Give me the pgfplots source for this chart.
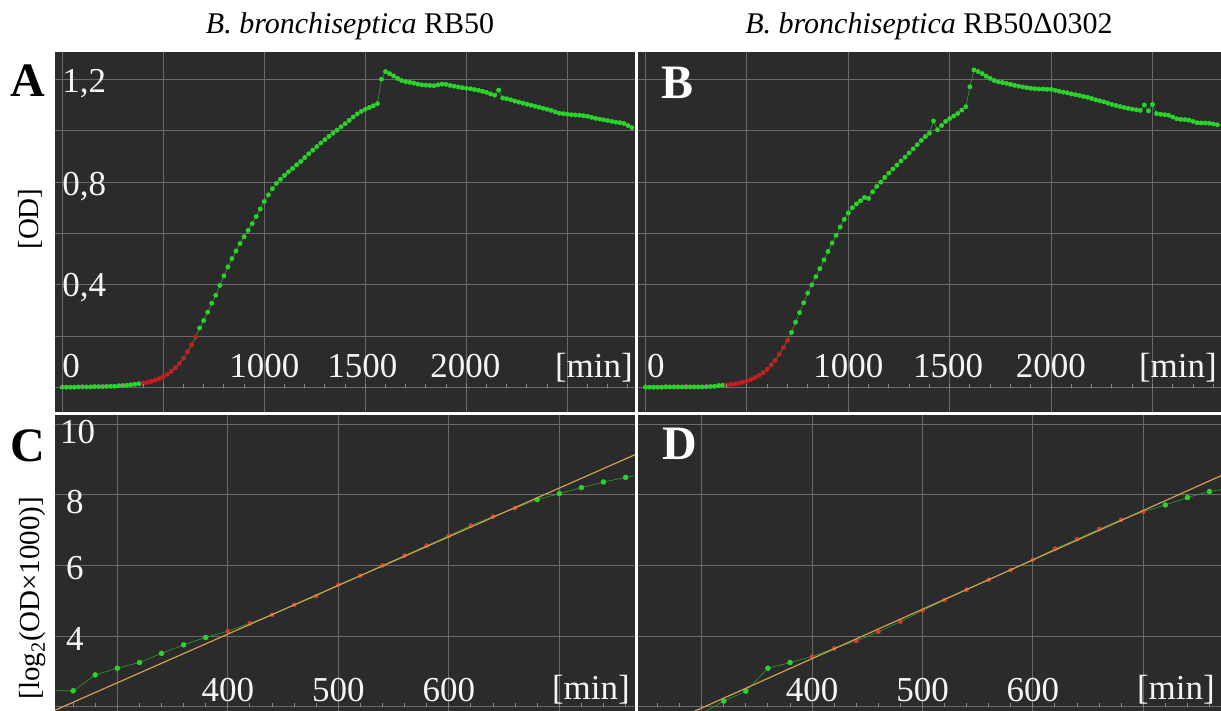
\documentclass[border=0pt]{standalone}
\usepackage{fontspec}
\setmainfont{Liberation Serif}
\usepackage{pgfplots}
\usepackage{pgfplotstable}
\pgfplotsset{compat=1.18}

\definecolor{bg}{HTML}{2B2B2B}
\definecolor{gridc}{HTML}{6A6A6A}
\definecolor{tickc}{HTML}{8A8A8A}
\definecolor{ptg}{HTML}{2BD42B}
\definecolor{lng}{HTML}{2E9E2E}
\definecolor{ptr}{HTML}{C81E1E}
\definecolor{ptrb}{HTML}{D43C28}
\definecolor{fitc}{HTML}{CFA052}
\definecolor{lab}{HTML}{F5F5F5}

% growth curve, RB50 (OD)
\pgfplotstableread{
t v c
0 0.002 g
20 0.002 g
40 0.002 g
60 0.002 g
80 0.003 g
100 0.003 g
120 0.003 g
140 0.003 g
160 0.004 g
180 0.004 g
200 0.004 g
220 0.005 g
240 0.0055 g
260 0.0055 g
280 0.0075 g
300 0.0085 g
320 0.0095 g
340 0.0114 g
360 0.0135 g
380 0.0156 g
400 0.0176 r
420 0.0205 r
440 0.0243 r
460 0.0295 r
480 0.0350 r
500 0.0437 r
520 0.0523 r
540 0.0640 r
560 0.0777 r
580 0.0943 r
600 0.1146 r
620 0.1400 r
640 0.1666 r
660 0.1967 r
680 0.2323 g
700 0.2614 g
720 0.2940 g
740 0.3286 g
760 0.3595 g
780 0.398 g
800 0.435 g
820 0.470 g
840 0.502 g
860 0.532 g
880 0.561 g
900 0.587 g
920 0.612 g
940 0.638 g
960 0.666 g
980 0.695 g
1000 0.724 g
1020 0.750 g
1040 0.774 g
1060 0.795 g
1080 0.811 g
1100 0.826 g
1120 0.840 g
1140 0.853 g
1160 0.867 g
1180 0.880 g
1200 0.895 g
1220 0.910 g
1240 0.924 g
1260 0.938 g
1280 0.952 g
1300 0.965 g
1320 0.978 g
1340 0.990 g
1360 1.002 g
1380 1.015 g
1400 1.027 g
1420 1.040 g
1440 1.053 g
1460 1.065 g
1480 1.075 g
1500 1.083 g
1520 1.090 g
1540 1.097 g
1560 1.105 g
1580 1.200 g
1600 1.230 g
1620 1.222 g
1640 1.213 g
1660 1.203 g
1680 1.195 g
1700 1.190 g
1720 1.188 g
1740 1.185 g
1760 1.181 g
1780 1.178 g
1800 1.177 g
1820 1.176 g
1840 1.175 g
1860 1.178 g
1880 1.181 g
1900 1.180 g
1920 1.176 g
1940 1.173 g
1960 1.170 g
1980 1.167 g
2000 1.165 g
2020 1.163 g
2040 1.160 g
2060 1.157 g
2080 1.153 g
2100 1.149 g
2120 1.143 g
2140 1.138 g
2160 1.158 g
2180 1.127 g
2200 1.124 g
2220 1.120 g
2240 1.115 g
2260 1.111 g
2280 1.107 g
2300 1.103 g
2320 1.099 g
2340 1.095 g
2360 1.091 g
2380 1.087 g
2400 1.083 g
2420 1.079 g
2440 1.073 g
2460 1.068 g
2480 1.066 g
2500 1.064 g
2520 1.062 g
2540 1.061 g
2560 1.060 g
2580 1.058 g
2600 1.056 g
2620 1.052 g
2640 1.048 g
2660 1.045 g
2680 1.042 g
2700 1.039 g
2720 1.036 g
2740 1.033 g
2760 1.031 g
2780 1.028 g
2800 1.020 g
2820 1.012 g
2840 1.010 g
}\dataA

% growth curve, RB50 delta 0302 (OD)
\pgfplotstableread{
t v c
0 0.002 g
20 0.002 g
40 0.002 g
60 0.002 g
80 0.002 g
100 0.003 g
120 0.003 g
140 0.003 g
160 0.003 g
180 0.003 g
200 0.003 g
220 0.003 g
240 0.003 g
260 0.003 g
280 0.003 g
300 0.0035 g
320 0.0045 g
340 0.0054 g
360 0.0085 g
380 0.0095 g
400 0.0107 r
420 0.0126 r
440 0.0145 r
460 0.0174 r
480 0.0213 r
500 0.0264 r
520 0.0325 r
540 0.0397 r
560 0.0482 r
580 0.0585 r
600 0.0715 r
620 0.0886 r
640 0.1069 r
660 0.1307 r
680 0.1565 r
700 0.1835 r
720 0.215 g
740 0.255 g
760 0.292 g
780 0.330 g
800 0.368 g
820 0.400 g
840 0.432 g
860 0.463 g
880 0.497 g
900 0.530 g
920 0.563 g
940 0.593 g
960 0.625 g
980 0.655 g
1000 0.680 g
1020 0.700 g
1040 0.715 g
1060 0.727 g
1080 0.740 g
1100 0.736 g
1120 0.762 g
1140 0.783 g
1160 0.800 g
1180 0.818 g
1200 0.835 g
1220 0.851 g
1240 0.866 g
1260 0.882 g
1280 0.897 g
1300 0.913 g
1320 0.929 g
1340 0.945 g
1360 0.962 g
1380 0.977 g
1400 0.990 g
1420 1.038 g
1440 1.003 g
1460 1.020 g
1480 1.036 g
1500 1.047 g
1520 1.057 g
1540 1.067 g
1560 1.080 g
1580 1.093 g
1600 1.171 g
1620 1.236 g
1640 1.230 g
1660 1.222 g
1680 1.212 g
1700 1.203 g
1720 1.195 g
1740 1.190 g
1760 1.187 g
1780 1.184 g
1800 1.180 g
1820 1.176 g
1840 1.173 g
1860 1.170 g
1880 1.167 g
1900 1.165 g
1920 1.163 g
1940 1.162 g
1960 1.162 g
1980 1.161 g
2000 1.161 g
2020 1.157 g
2040 1.153 g
2060 1.150 g
2080 1.147 g
2100 1.143 g
2120 1.140 g
2140 1.137 g
2160 1.133 g
2180 1.130 g
2200 1.125 g
2220 1.120 g
2240 1.116 g
2260 1.112 g
2280 1.107 g
2300 1.102 g
2320 1.098 g
2340 1.094 g
2360 1.090 g
2380 1.087 g
2400 1.084 g
2420 1.081 g
2440 1.079 g
2460 1.100 g
2480 1.077 g
2500 1.102 g
2520 1.066 g
2540 1.064 g
2560 1.062 g
2580 1.060 g
2600 1.053 g
2620 1.046 g
2640 1.044 g
2660 1.043 g
2680 1.041 g
2700 1.036 g
2720 1.031 g
2740 1.030 g
2760 1.030 g
2780 1.029 g
2800 1.026 g
2820 1.023 g
2840 1.020 g
}\dataB

% log2(OD x 1000), RB50
\pgfplotstableread{
t v c
240 2.45 g
260 2.45 g
280 2.90 g
300 3.09 g
320 3.25 g
340 3.51 g
360 3.75 g
380 3.96 g
400 4.14 r
420 4.36 r
440 4.60 r
460 4.88 r
480 5.13 r
500 5.45 r
520 5.71 r
540 6.00 r
560 6.28 r
580 6.56 r
600 6.84 r
620 7.13 r
640 7.38 r
660 7.62 r
680 7.86 g
700 8.03 g
720 8.20 g
740 8.36 g
760 8.49 g
780 8.60 g
}\dataC

% log2(OD x 1000), RB50 delta 0302
\pgfplotstableread{
t v c
280 1.50 g
300 1.80 g
320 2.16 g
340 2.44 g
360 3.09 g
380 3.25 g
400 3.42 r
420 3.65 r
440 3.86 r
460 4.12 r
480 4.41 r
500 4.72 r
520 5.02 r
540 5.31 r
560 5.59 r
580 5.87 r
600 6.16 r
620 6.47 r
640 6.74 r
660 7.03 r
680 7.29 r
700 7.52 r
720 7.71 g
740 7.92 g
760 8.09 g
780 8.20 g
}\dataD

\pgfplotsset{
  panel/.style={
    scale only axis, anchor=north west,
    axis background/.style={fill=bg},
    axis line style={draw=none},
    tick style={draw=none},
    xticklabels={}, yticklabels={},
    xmajorgrids, ymajorgrids,
    major grid style={gridc, line width=1bp},
    clip marker paths=true,
  },
  curve/.style={lng, line width=0.6bp, mark=none},
  dots/.style={scatter, only marks, scatter src=explicit symbolic},
}
\tikzset{
  txt/.style={text=lab, inner sep=0pt, font=\fontsize{35bp}{40bp}\selectfont},
  mtick/.style={tickc, line width=1bp},
}

\begin{document}
\begin{tikzpicture}
\fill[white] (0,0) rectangle (1221bp,-711bp);
\useasboundingbox (0,0) rectangle (1221bp,-711bp);

% ---- A ----
\begin{axis}[panel, at={(55bp,-52bp)}, width=580bp, height=360bp,
  xmin=-36, xmax=2835, ymin=-0.0946, ymax=1.306,
  xtick={0,500,1000,1500,2000,2500}, ytick={0,0.2,0.4,0.6,0.8,1,1.2}]
\addplot[curve] table[x=t,y=v] {\dataA};
\addplot[dots, mark size=2.2bp, scatter/classes={g={mark=*,ptg},r={mark=*,ptr}}]
  table[x=t,y=v,meta=c] {\dataA};
\pgfplotsinvokeforeach{0,100,...,2800}{\draw[mtick] (axis cs:#1,0) -- ++(0pt,4bp);}
\node[txt, anchor=base west, yshift=10bp] at (axis cs:0,0) {0};
\node[txt, anchor=base, yshift=10bp] at (axis cs:1000,0) {1000};
\node[txt, anchor=base, yshift=10bp] at (axis cs:1485,0) {1500};
\node[txt, anchor=base, yshift=10bp] at (axis cs:1995,0) {2000};
\node[txt, anchor=base east, xshift=-2bp, yshift=10bp] at (axis cs:2835,0) {[min]};
\node[txt, anchor=base west, yshift=-13bp] at (axis cs:0,1.2) {1,2};
\node[txt, anchor=base west, yshift=-13bp] at (axis cs:0,0.8) {0,8};
\node[txt, anchor=base west, yshift=-12bp] at (axis cs:0,0.4) {0,4};
\end{axis}

% ---- B ----
\begin{axis}[panel, at={(638bp,-52bp)}, width=583bp, height=360bp,
  xmin=-37, xmax=2838, ymin=-0.0946, ymax=1.306,
  xtick={0,500,1000,1500,2000,2500}, ytick={0,0.2,0.4,0.6,0.8,1,1.2}]
\addplot[curve] table[x=t,y=v] {\dataB};
\addplot[dots, mark size=2.2bp, scatter/classes={g={mark=*,ptg},r={mark=*,ptr}}]
  table[x=t,y=v,meta=c] {\dataB};
\pgfplotsinvokeforeach{0,100,...,2800}{\draw[mtick] (axis cs:#1,0) -- ++(0pt,4bp);}
\node[txt, anchor=base west, xshift=1.5bp, yshift=10bp] at (axis cs:0,0) {0};
\node[txt, anchor=base, yshift=10bp] at (axis cs:1000,0) {1000};
\node[txt, anchor=base, yshift=10bp] at (axis cs:1492,0) {1500};
\node[txt, anchor=base, yshift=10bp] at (axis cs:1999,0) {2000};
\node[txt, anchor=base east, xshift=-4bp, yshift=10bp] at (axis cs:2838,0) {[min]};
\end{axis}

% ---- C ----
\begin{axis}[panel, at={(55bp,-415bp)}, width=580bp, height=296bp,
  xmin=243.6, xmax=768.5, ymin=1.878, ymax=10.255,
  xtick={300,400,500,600,700}, ytick={2,4,6,8,10}]
\addplot[curve] table[x=t,y=v] {\dataC};
\addplot[dots, scatter/classes={g={mark=*,ptg,mark size=2.5bp},r={mark=*,ptrb,mark size=2.1bp}}]
  table[x=t,y=v,meta=c] {\dataC};
\addplot[fitc, line width=1.2bp] coordinates {(240,1.85) (780,9.29)};
\pgfplotsinvokeforeach{260,280,...,760}{\draw[mtick] (axis cs:#1,2) -- ++(0pt,4bp);}
\node[txt, anchor=base, yshift=5bp] at (axis cs:400,2) {400};
\node[txt, anchor=base, yshift=5bp] at (axis cs:500,2) {500};
\node[txt, anchor=base, yshift=5bp] at (axis cs:600,2) {600};
\node[txt, anchor=base east, xshift=-5bp, yshift=7bp] at (axis cs:768.5,2) {[min]};
\node[txt, anchor=base] at (axis cs:264,9.46) {10};
\node[txt, anchor=base] at (axis cs:261.5,7.48) {8};
\node[txt, anchor=base] at (axis cs:261.5,5.59) {6};
\node[txt, anchor=base] at (axis cs:261.5,3.60) {4};
\end{axis}

% ---- D ----
\begin{axis}[panel, at={(638bp,-415bp)}, width=583bp, height=296bp,
  xmin=242.3, xmax=770.4, ymin=1.878, ymax=10.255,
  xtick={300,400,500,600,700}, ytick={2,4,6,8,10}]
\addplot[curve] table[x=t,y=v] {\dataD};
\addplot[dots, scatter/classes={g={mark=*,ptg,mark size=2.5bp},r={mark=*,ptrb,mark size=2.1bp}}]
  table[x=t,y=v,meta=c] {\dataD};
\addplot[fitc, line width=1.2bp] coordinates {(240,1.125) (780,8.67)};
\pgfplotsinvokeforeach{260,280,...,760}{\draw[mtick] (axis cs:#1,2) -- ++(0pt,4bp);}
\node[txt, anchor=base, yshift=5bp] at (axis cs:400,2) {400};
\node[txt, anchor=base, yshift=5bp] at (axis cs:500,2) {500};
\node[txt, anchor=base, yshift=5bp] at (axis cs:600,2) {600};
\node[txt, anchor=base east, xshift=-6bp, yshift=7bp] at (axis cs:770.4,2) {[min]};
\end{axis}

% titles, axis labels, panel letters
\node[anchor=base, font=\fontsize{30bp}{32bp}\selectfont] at (350bp,-33bp)
  {\textit{B. bronchiseptica} RB50};
\node[anchor=base, font=\fontsize{30bp}{32bp}\selectfont] at (929bp,-33bp)
  {\textit{B. bronchiseptica} RB50Δ0302};
\node[rotate=90, inner sep=0pt, font=\fontsize{29bp}{32bp}\selectfont] at (30bp,-219bp) {[OD]};
\node[rotate=90, inner sep=0pt, font=\fontsize{29bp}{32bp}\selectfont] at (33bp,-598bp)
  {[log\textsubscript{2}(OD×1000)]};
\node[inner sep=0pt, font=\fontsize{48bp}{50bp}\selectfont\bfseries] at (28bp,-81bp) {A};
\node[inner sep=0pt, font=\fontsize{48bp}{50bp}\selectfont\bfseries] at (28bp,-446bp) {C};
\node[inner sep=0pt, text=white, font=\fontsize{48bp}{50bp}\selectfont\bfseries] at (677bp,-83bp) {B};
\node[inner sep=0pt, text=white, font=\fontsize{48bp}{50bp}\selectfont\bfseries] at (680bp,-444bp) {D};
\end{tikzpicture}
\end{document}
